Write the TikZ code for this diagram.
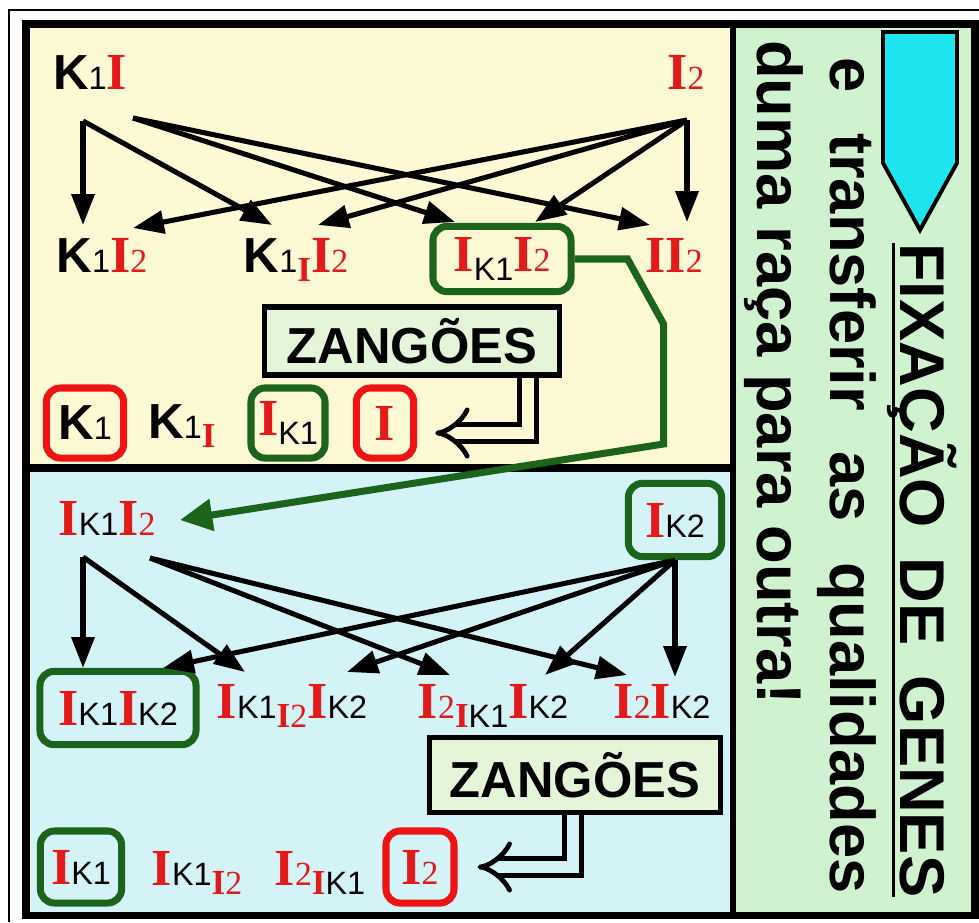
\documentclass[tikz,border=0pt]{standalone}
\usepackage{fontspec}
\setmainfont{Liberation Sans}
\newfontfamily\serifI{Liberation Serif}
\usetikzlibrary{arrows.meta,calc}

\definecolor{topfill}{RGB}{252,249,212}
\definecolor{botfill}{RGB}{212,243,247}
\definecolor{sidefill}{RGB}{208,242,208}
\definecolor{zfill}{RGB}{228,245,218}
\definecolor{genred}{RGB}{226,26,26}
\definecolor{boxred}{RGB}{238,20,20}
\definecolor{boxgreen}{RGB}{28,100,28}
\definecolor{arrcyan}{RGB}{30,228,240}

% letras dos genes
\newcommand{\gI}{{\color{genred}\fontsize{37}{40}\selectfont\serifI\bfseries I}}
\newcommand{\gK}{{\fontsize{35}{40}\selectfont\bfseries K}}
\newcommand{\gs}[1]{{\fontsize{23}{26}\selectfont #1}}
\newcommand{\gsI}{{\color{genred}\fontsize{25}{27}\selectfont\serifI\bfseries I}}
\newcommand{\gtwo}{{\color{genred}\fontsize{24}{26}\selectfont\serifI 2}}
\newcommand{\gdn}[1]{\raisebox{-7pt}{#1}}

\begin{document}
\begin{tikzpicture}[x=0.025cm, y=-0.025cm,
    arr/.style={line width=3.6pt, -{Triangle[length=22pt,width=16pt]}},
    gbox/.style={draw=boxgreen, line width=5pt, rounded corners=0.35cm, inner sep=0pt},
    rbox/.style={draw=boxred, line width=5pt, rounded corners=0.35cm, inner sep=0pt},
    zbox/.style={draw, fill=zfill, line width=3.6pt, inner sep=0pt, font=\fontsize{36}{40}\selectfont\bfseries},
    hollow/.style={line width=3.4pt, double distance=9pt, -{Implies[scale=1.3]}},
    lbl/.style={anchor=base, inner sep=0pt},
    sidetxt/.style={rotate=-90, anchor=base west, inner sep=0pt, font=\fontsize{45}{50}\selectfont\bfseries}]
    \useasboundingbox (0,0) rectangle (979,922);

    % Quadro
    \fill[topfill] (26,24) rectangle (733,468);
    \fill[botfill] (26,468) rectangle (733,915);
    \fill[sidefill] (733,24) rectangle (975,915);
    \draw[line width=1.1pt] (9,922) -- (9,10) -- (979,10);
    \draw[line width=5pt] (26,24) rectangle (975,915);
    \draw[line width=5.7pt] (26,468) -- (733,468);
    \draw[line width=4.3pt] (733,24) -- (733,915);

    % Texto lateral
    \draw[line width=2.8pt, fill=arrcyan] (883,32) -- (957,32) -- (957,163) -- (920,230) -- (883,163) -- cycle;
    \node[sidetxt] (titulo) at (900,243) {\rlap{\rule[-6pt]{16.35cm}{2.2pt}}\makebox[16.35cm]{FIXAÇÃO\hfill DE\hfill GENES}};
    \node[sidetxt] (linha2) at (830,57) {\makebox[20.9cm]{e\hfill transferir\hfill as\hfill qualidades}};
    \node[sidetxt] (linha3) at (757,40) {duma raça para outra!};

    % Painel superior
    \node[lbl] (k1i) at (90,89) {\gK\gs{1}\gI};
    \node[lbl] (i2t) at (686,89) {\gI\gtwo};
    \node[lbl] (k1i2) at (102,272) {\gK\gs{1}\gI\gtwo};
    \node[lbl] (k1ii2) at (296,272) {\gK\gs{1}\gdn{\gsI}\gI\gtwo};
    \node[gbox, minimum width=3.45cm, minimum height=1.63cm] (ik1i2) at (502,259) {\gI\gdn{\gs{K1}}\gI\gtwo};
    \node[lbl] (ii2) at (674,272) {\gI\gI\gtwo};
    \node[zbox, minimum width=7.38cm, minimum height=1.7cm] (zang1) at (412,341) {ZANGÕES};
    \node[rbox, minimum width=1.93cm, minimum height=1.75cm] (k1box) at (85,423) {\gK\gs{1}};
    \node[lbl] (k1is) at (182,438) {\gK\gs{1}\gdn{\gsI}};
    \node[gbox, minimum width=1.85cm, minimum height=1.75cm] (ik1box) at (288,423) {\gI\gdn{\gs{K1}}};
    \node[rbox, minimum width=1.43cm, minimum height=1.75cm] (ibox) at (385,423) {\gI};

    \coordinate (k1iA) at ($(k1i.base)+(-7,32)$);
    \coordinate (k1iB) at ($(k1i.base)+(43,29)$);
    \coordinate (i2tA) at ($(i2t.base)+(1,31)$);
    \draw[arr] (k1iA) -- ($(k1i2.base)+(-19,-47)$);
    \draw[arr] (k1iA) -- ($(k1ii2.base)+(-24,-47)$);
    \draw[arr] (k1iB) -- ($(ik1i2)+(-47,-37)$);
    \draw[arr] (k1iB) -- ($(ii2.base)+(-24,-47)$);
    \draw[arr] (i2tA) -- ($(ii2.base)+(13,-50)$);
    \draw[arr] (i2tA) -- ($(ik1i2)+(33,-37)$);
    \draw[arr] (i2tA) -- ($(k1ii2.base)+(22,-47)$);
    \draw[arr] (i2tA) -- ($(k1i2.base)+(31,-44)$);
    \draw[hollow, double=topfill] ($(zang1.south)+(116,0)$) |- ($(ibox.east)+(18,10)$);

    % Painel inferior
    \node[lbl] (ik1i2b) at (107,535) {\gI\gs{K1}\gI\gtwo};
    \node[gbox, minimum width=2.33cm, minimum height=1.83cm] (ik2box) at (675,520) {\gI\gs{K2}};
    \node[gbox, minimum width=3.9cm, minimum height=1.83cm] (ik1ik2) at (118,708) {\gI\gs{K1}\gI\gs{K2}\hspace{16pt}};
    \node[lbl] (ik1i2ik2) at (292,718) {\gI\gs{K1}\gdn{\gsI\gtwo}\gI\gs{K2}};
    \node[lbl] (i2ik1ik2) at (493,718) {\gI\gtwo\gdn{\gsI\gs{K1}}\gI\gs{K2}};
    \node[lbl] (i2ik2) at (662,718) {\gI\gtwo\gI\gs{K2}};
    \node[zbox, minimum width=7.28cm, minimum height=1.88cm] (zang2) at (575,775) {ZANGÕES};
    \node[gbox, minimum width=2.03cm, minimum height=1.8cm] (ik1b2) at (81,867) {\gI\gs{K1}};
    \node[lbl] (ik1i2s) at (197,885) {\gI\gs{K1}\gdn{\gsI\gtwo}};
    \node[lbl] (i2ik1s) at (320,885) {\gI\gtwo\gdn{\gsI\gs{K1}}};
    \node[rbox, minimum width=1.7cm, minimum height=1.8cm] (i2box) at (420,867) {\gI\gtwo};

    \coordinate (ik1i2bA) at ($(ik1i2b.base)+(-24,22)$);
    \coordinate (ik1i2bB) at ($(ik1i2b.base)+(43,23)$);
    \draw[arr] (ik1i2bA) -- ($(ik1ik2)+(-35,-40)$);
    \draw[arr] (ik1i2bA) -- ($(ik1i2ik2.base)+(-47,-46)$);
    \draw[arr] (ik1i2bB) -- ($(i2ik1ik2.base)+(-43,-43)$);
    \draw[arr] (ik1i2bB) -- ($(i2ik2.base)+(-35,-43)$);
    \draw[arr] (ik2box.south) -- ($(i2ik2.base)+(13,-41)$);
    \draw[arr] (ik2box.south) -- ($(i2ik1ik2.base)+(52,-43)$);
    \draw[arr] (ik2box.south) -- ($(ik1i2ik2.base)+(55,-46)$);
    \draw[arr] (ik2box.south) -- ($(ik1ik2)+(45,-40)$);
    \draw[hollow, double=botfill] ($(zang2.south)+(-2,0)$) |- ($(i2box.east)+(20,0)$);

    % Passagem para a outra raça
    \draw[boxgreen, line width=5pt, -{Triangle[length=23pt,width=22pt]}] (ik1i2.east) -- ++(53,0) -- ++(36,65) -- ++(0,120) -- ($(ik1i2b.base)+(73,-15)$);
\end{tikzpicture}
\end{document}
